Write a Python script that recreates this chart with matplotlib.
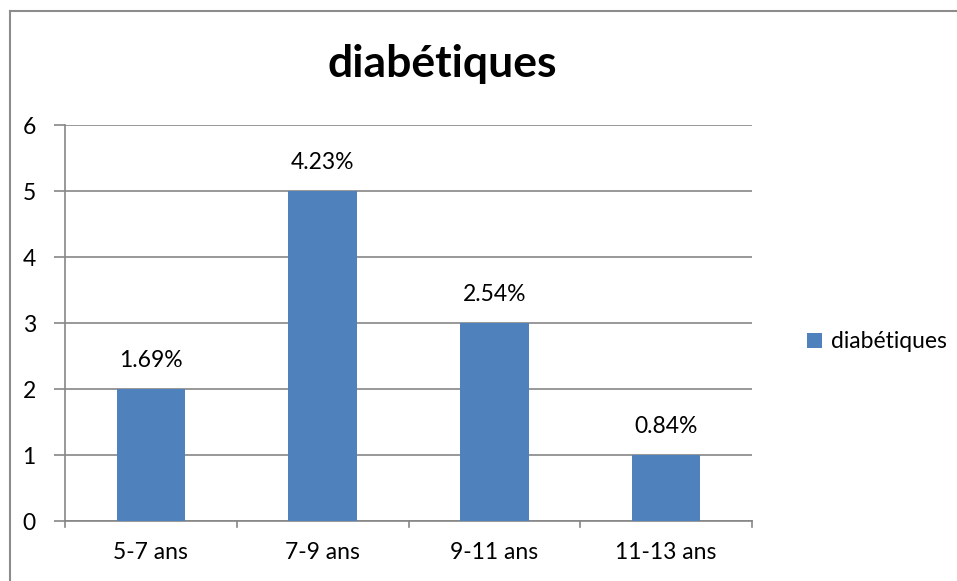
import matplotlib
matplotlib.use("Agg")
import matplotlib.pyplot as plt
from matplotlib.lines import Line2D
from matplotlib.patches import Patch

categories = ["5-7 ans", "7-9 ans", "9-11 ans", "11-13 ans"]
counts = [2, 5, 3, 1]
pct_labels = ["1.69%", "4.23%", "2.54%", "0.84%"]
series_name = "diabétiques"
y_ticks = [0, 1, 2, 3, 4, 5, 6]

plt.rcParams["font.family"] = ["Lato", "DejaVu Sans"]

W, H = 957, 581
fig = plt.figure(figsize=(W / 100, H / 100), dpi=100)
fig.patch.set_facecolor("white")

# chart frame (left and top edges)
frame_c = "#8c8c8c"
fig.add_artist(Line2D([10 / W, 10 / W], [0, 1 - 11 / H], transform=fig.transFigure,
                      color=frame_c, lw=1.5))
fig.add_artist(Line2D([10 / W, 1], [1 - 11 / H, 1 - 11 / H], transform=fig.transFigure,
                      color=frame_c, lw=1.5))

ax = fig.add_axes([65 / W, 1 - 521 / H, (752 - 65) / W, (521 - 125) / H])
bar_color = "#4f81bd"
grid_c = "#868686"
x = range(len(categories))
ax.bar(x, counts, width=0.4, color=bar_color, zorder=3)

ax.set_xlim(-0.5, len(categories) - 0.5)
ax.set_ylim(0, 6)
ax.set_yticks(y_ticks)
ax.set_yticklabels([str(t) for t in y_ticks], fontsize=16.5)
ax.yaxis.grid(True, color=grid_c, lw=1.2, zorder=0)
ax.set_axisbelow(True)

ax.set_xticks(list(x))
ax.set_xticklabels(categories, fontsize=16.5)
ax.tick_params(axis="x", length=0, pad=15)
ax.tick_params(axis="y", length=8, color=grid_c, width=1.2, pad=13)

# category boundary ticks on the x axis
for b in [i - 0.5 for i in range(len(categories) + 1)]:
    ax.plot([b, b], [0, -0.09], color=grid_c, lw=1.2, clip_on=False, zorder=4)

for s in ["top", "right"]:
    ax.spines[s].set_visible(False)
for s in ["left", "bottom"]:
    ax.spines[s].set_color(grid_c)
    ax.spines[s].set_linewidth(1.2)

for xi, v, lab in zip(x, counts, pct_labels):
    ax.annotate(lab, (xi, v), xytext=(0, 13), textcoords="offset points",
                ha="center", va="bottom", fontsize=16.5)

fig.text(442 / W, 1 - 64 / H, series_name, ha="center", va="center",
         fontsize=32, fontweight="bold")

fig.legend(handles=[Patch(facecolor=bar_color, label=series_name)],
           loc="center left", bbox_to_anchor=(786 / W, 1 - 342 / H),
           frameon=False, fontsize=16.5, handlelength=0.65, handleheight=0.65,
           handletextpad=0.4)

fig.savefig("out.png", dpi=100, facecolor="white")
